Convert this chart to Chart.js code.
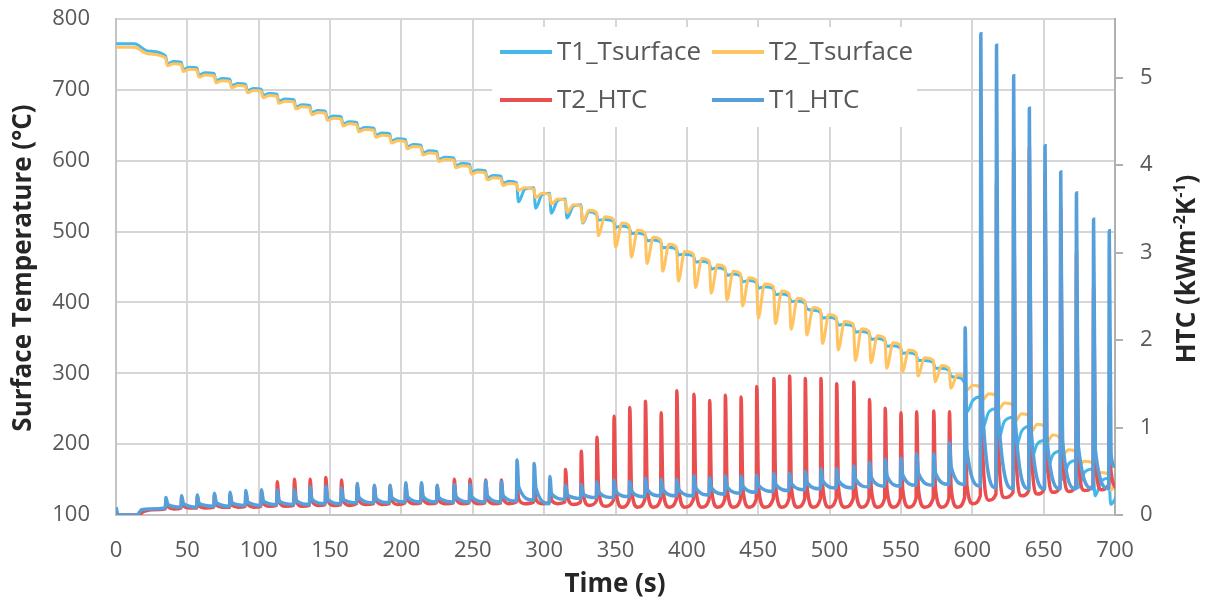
<!DOCTYPE html>
<html>
<head>
<meta charset="utf-8">
<script src="https://cdn.jsdelivr.net/npm/chart.js@4.4.1/dist/chart.umd.min.js"></script>
<style>
  html, body { margin: 0; padding: 0; background: #fff; }
  #wrap { width: 1210px; height: 603px; }
</style>
</head>
<body>
<div id="wrap"><canvas id="chart" width="1210" height="603"></canvas></div>
<script>
// spray pulse times (s)
const spikeT = [35, 46, 57, 69, 80, 91, 102, 113, 125, 136,
  147, 158, 169, 181, 192, 203, 214, 225, 237, 248,
  259, 270, 281, 293, 304, 315, 326, 337, 349, 360,
  371, 382, 393, 405, 416, 427, 438, 449, 461, 472,
  483, 494, 505, 517, 528, 539, 550, 561, 573, 584,
  595, 606, 617, 629, 640, 651, 662, 673, 685, 696];

// T1 surface temperature (°C): before drop, bottom of drop, after recovery
const t1SurfStart = [[0, 765], [13, 765], [22, 755]];
const t1SurfPre = [748, 739, 731, 723, 715, 708, 701, 694, 686, 678,
  670, 662, 654, 646, 638, 630, 622, 613, 604, 595,
  586, 578, 569, 562, 554, 546, 538, 524, 514, 505,
  495, 485, 475, 465, 455, 446, 437, 428, 419, 409,
  399, 386, 376, 366, 356, 346, 336, 326, 315, 304,
  286, 267, 250, 238, 225, 205, 190, 177, 165, 152];
const t1SurfLow = [737, 729, 721, 713, 706, 699, 692, 684, 676, 668,
  660, 652, 644, 636, 628, 620, 611, 602, 593, 584,
  576, 568, 542, 533, 526, 519, 512, 516, 506, 497,
  487, 477, 467, 457, 447, 438, 429, 420, 411, 401,
  391, 378, 368, 358, 348, 338, 328, 318, 307, 296,
  245, 222, 205, 192, 178, 162, 150, 138, 127, 115];
const t1SurfRec = [740, 732, 724, 716, 709, 702, 695, 687, 679, 671,
  663, 655, 647, 639, 631, 623, 614, 605, 596, 587,
  579, 571, 560, 552, 544, 536, 528, 517, 508, 498,
  488, 478, 468, 458, 449, 440, 431, 422, 412, 402,
  389, 379, 369, 359, 349, 339, 329, 318, 307, 294,
  262, 245, 232, 218, 200, 185, 172, 160, 148, 125];
const t1SurfEnd = [[700, 128]];

// T2 surface temperature (°C)
const t2SurfStart = [[0, 760], [13, 760], [22, 751]];
const t2SurfPre = [745, 736, 728, 720, 712, 705, 698, 691, 683, 675,
  667, 659, 651, 643, 635, 627, 619, 610, 601, 592,
  583, 575, 567, 560, 552, 544, 536, 527, 517, 508,
  498, 488, 478, 468, 458, 449, 440, 431, 422, 412,
  402, 389, 379, 369, 359, 349, 339, 329, 318, 307,
  294, 280, 268, 255, 240, 225, 207, 189, 173, 157];
const t2SurfLow = [734, 726, 718, 710, 703, 696, 689, 681, 673, 665,
  657, 649, 641, 633, 625, 617, 608, 599, 590, 581,
  573, 565, 558, 548, 539, 527, 513, 494, 478, 464,
  455, 444, 430, 421, 413, 403, 395, 378, 370, 362,
  354, 342, 333, 318, 315, 307, 302, 296, 288, 279,
  276, 262, 248, 232, 217, 202, 184, 168, 150, 135];
const t2SurfRec = [737, 729, 721, 713, 706, 699, 692, 684, 676, 668,
  660, 652, 644, 636, 628, 620, 611, 602, 593, 584,
  576, 568, 562, 554, 546, 538, 530, 521, 512, 502,
  492, 482, 472, 462, 453, 444, 435, 426, 416, 406,
  393, 383, 373, 363, 353, 343, 333, 322, 311, 298,
  283, 271, 258, 243, 228, 213, 192, 176, 160, 146];
const t2SurfEnd = [[700, 144]];

// T1 HTC (kW/m2K): before spike, peak, shortly after
const t1HtcStart = [[0, 0.09], [1.5, 0], [14.5, 0], [18, 0.06], [24, 0.07]];
const t1HtcPre = [0.08, 0.09, 0.09, 0.10, 0.10, 0.11, 0.11, 0.12, 0.12, 0.12,
  0.13, 0.13, 0.14, 0.14, 0.14, 0.15, 0.15, 0.15, 0.15, 0.15,
  0.15, 0.15, 0.16, 0.17, 0.13, 0.18, 0.19, 0.20, 0.20, 0.21,
  0.21, 0.22, 0.22, 0.22, 0.23, 0.24, 0.25, 0.26, 0.27, 0.28,
  0.29, 0.30, 0.31, 0.31, 0.32, 0.33, 0.33, 0.34, 0.34, 0.35,
  0.35, 0.33, 0.31, 0.30, 0.30, 0.30, 0.30, 0.30, 0.30, 0.30];
const t1HtcPeak = [0.20, 0.22, 0.23, 0.25, 0.26, 0.28, 0.29, 0.29, 0.29, 0.32,
  0.33, 0.31, 0.36, 0.34, 0.34, 0.37, 0.37, 0.34, 0.35, 0.35,
  0.39, 0.38, 0.63, 0.59, 0.44, 0.34, 0.35, 0.38, 0.40, 0.39,
  0.42, 0.41, 0.41, 0.45, 0.43, 0.45, 0.45, 0.46, 0.48, 0.48,
  0.50, 0.53, 0.53, 0.56, 0.60, 0.64, 0.65, 0.70, 0.70, 0.83,
  2.14, 5.50, 5.37, 5.02, 4.65, 4.22, 3.92, 3.68, 3.38, 3.25];
const t1HtcPost = [0.12, 0.13, 0.13, 0.14, 0.14, 0.15, 0.16, 0.16, 0.17, 0.18,
  0.18, 0.18, 0.20, 0.19, 0.20, 0.21, 0.21, 0.20, 0.21, 0.21,
  0.22, 0.22, 0.32, 0.31, 0.24, 0.23, 0.24, 0.26, 0.27, 0.27,
  0.29, 0.29, 0.29, 0.31, 0.31, 0.32, 0.33, 0.34, 0.35, 0.36,
  0.37, 0.39, 0.39, 0.41, 0.43, 0.45, 0.46, 0.48, 0.48, 0.55,
  0.75, 1.20, 1.15, 1.05, 0.98, 0.90, 0.85, 0.80, 0.75, 0.70];
const t1HtcEnd = [[700, 0.55]];

// T2 HTC (kW/m2K): before spike, peak, shortly after, trough
const t2HtcStart = [[0, 0.03], [1.5, 0], [15.5, 0], [19.5, 0.04], [25, 0.06]];
const t2HtcPre = [0.07, 0.08, 0.08, 0.09, 0.09, 0.10, 0.10, 0.11, 0.11, 0.11,
  0.12, 0.12, 0.13, 0.13, 0.13, 0.14, 0.14, 0.14, 0.14, 0.14,
  0.14, 0.14, 0.15, 0.15, 0.14, 0.15, 0.15, 0.16, 0.17, 0.17,
  0.18, 0.18, 0.18, 0.18, 0.18, 0.18, 0.18, 0.18, 0.19, 0.19,
  0.19, 0.19, 0.19, 0.19, 0.19, 0.19, 0.19, 0.19, 0.19, 0.19,
  0.20, 0.22, 0.24, 0.26, 0.28, 0.30, 0.32, 0.33, 0.34, 0.35];
const t2HtcPeak = [0.18, 0.20, 0.21, 0.23, 0.24, 0.26, 0.27, 0.38, 0.41, 0.41,
  0.43, 0.40, 0.33, 0.32, 0.32, 0.34, 0.34, 0.32, 0.41, 0.41,
  0.40, 0.40, 0.33, 0.32, 0.30, 0.52, 0.73, 0.89, 1.13, 1.23,
  1.30, 1.17, 1.42, 1.38, 1.31, 1.37, 1.35, 1.47, 1.56, 1.59,
  1.56, 1.56, 1.50, 1.52, 1.32, 1.22, 1.17, 1.18, 1.19, 1.18,
  1.30, 3.00, 3.80, 4.15, 4.20, 3.90, 3.50, 3.00, 2.60, 1.30];
const t2HtcPost = [0.10, 0.11, 0.11, 0.12, 0.12, 0.13, 0.14, 0.16, 0.17, 0.17,
  0.18, 0.17, 0.17, 0.17, 0.17, 0.18, 0.18, 0.17, 0.19, 0.19,
  0.19, 0.19, 0.18, 0.18, 0.17, 0.22, 0.26, 0.28, 0.30, 0.30,
  0.31, 0.30, 0.32, 0.31, 0.31, 0.31, 0.31, 0.32, 0.33, 0.33,
  0.33, 0.33, 0.32, 0.32, 0.31, 0.30, 0.30, 0.30, 0.30, 0.30,
  0.35, 0.75, 0.85, 0.85, 0.85, 0.80, 0.75, 0.70, 0.65, 0.50];
const t2HtcLow = [0.07, 0.08, 0.08, 0.09, 0.09, 0.09, 0.10, 0.10, 0.10, 0.11,
  0.11, 0.11, 0.12, 0.12, 0.12, 0.13, 0.13, 0.13, 0.13, 0.13,
  0.13, 0.13, 0.13, 0.13, 0.13, 0.12, 0.11, 0.10, 0.09, 0.09,
  0.09, 0.09, 0.09, 0.09, 0.09, 0.09, 0.09, 0.09, 0.09, 0.09,
  0.09, 0.09, 0.09, 0.09, 0.09, 0.09, 0.09, 0.09, 0.09, 0.09,
  0.13, 0.17, 0.20, 0.22, 0.24, 0.26, 0.27, 0.28, 0.29, 0.30];

const legendItems = [
  ['T1_Tsurface', '#45b8ea'], ['T2_Tsurface', '#ffc461'],
  ['T2_HTC', '#ea4f4f'], ['T1_HTC', '#559fdb']
];

const toXY = list => list.map(([x, y]) => ({ x, y }));

function surfPoints(start, pre, low, rec, end) {
  const pts = toXY(start);
  spikeT.forEach((t, i) => {
    pts.push({ x: t - 0.3, y: pre[i] }, { x: t + 1, y: low[i] }, { x: t + 5.5, y: rec[i] });
  });
  return pts.concat(toXY(end));
}

function htcPoints(start, pre, peak, post, low, end) {
  const pts = toXY(start);
  spikeT.forEach((t, i) => {
    pts.push({ x: t - 0.4, y: pre[i] }, { x: t, y: peak[i] }, { x: t + 1.2, y: post[i] });
    if (low) pts.push({ x: t + 5.5, y: low[i] });
  });
  return pts.concat(toXY(end));
}

const gridGrey = '#d6d6d6';
const labelGrey = '#595959';
Chart.defaults.font.family = "'Open Sans', 'DejaVu Sans', sans-serif";

const line = (label, data, color, axis, width) => ({
  label, data, borderColor: color, backgroundColor: color, yAxisID: axis,
  borderWidth: width, pointRadius: 0, cubicInterpolationMode: 'monotone', fill: false
});

// first dataset ends up on top
const datasets = [
  line('T1_HTC', htcPoints(t1HtcStart, t1HtcPre, t1HtcPeak, t1HtcPost, null, t1HtcEnd), '#559fdb', 'y2', 3.5),
  line('T2_HTC', htcPoints(t2HtcStart, t2HtcPre, t2HtcPeak, t2HtcPost, t2HtcLow, []), '#ea4f4f', 'y2', 3.5),
  line('T2_Tsurface', surfPoints(t2SurfStart, t2SurfPre, t2SurfLow, t2SurfRec, t2SurfEnd), '#ffc461', 'y', 3),
  line('T1_Tsurface', surfPoints(t1SurfStart, t1SurfPre, t1SurfLow, t1SurfRec, t1SurfEnd), '#45b8ea', 'y', 3)
];

const decor = {
  id: 'decor',
  beforeDatasetsDraw(chart) {
    const { ctx, chartArea: a } = chart;
    ctx.save();
    ctx.fillStyle = '#fff';
    ctx.fillRect(a.left + 376, a.top + 8, 425, 100);
    ctx.font = "26px 'Open Sans'";
    ctx.textBaseline = 'middle';
    legendItems.forEach(([label, color], i) => {
      const x = a.left + 384 + (i % 2) * 212;
      const y = a.top + 33 + Math.floor(i / 2) * 48;
      ctx.strokeStyle = color;
      ctx.lineWidth = 4;
      ctx.beginPath();
      ctx.moveTo(x, y);
      ctx.lineTo(x + 52, y);
      ctx.stroke();
      ctx.fillStyle = labelGrey;
      ctx.fillText(label, x + 57, y + 1);
    });
    ctx.restore();
  },
  afterDraw(chart) {
    const { ctx } = chart;
    ctx.save();
    ctx.fillStyle = '#262626';
    ctx.font = "bold 26px 'Open Sans'";
    ctx.textAlign = 'center';
    ctx.textBaseline = 'middle';
    ctx.fillText('Time (s)', 615, 585);

    ctx.save();
    ctx.translate(24, 268);
    ctx.rotate(-Math.PI / 2);
    ctx.fillText('Surface Temperature (°C)', 0, 0);
    ctx.restore();

    // right title with superscripts
    ctx.translate(1188, 269);
    ctx.rotate(-Math.PI / 2);
    ctx.textAlign = 'left';
    const parts = [['HTC (kWm', false], ['-2', true], ['K', false], ['-1', true], [')', false]];
    const fontFor = sup => sup ? "bold 16px 'Open Sans'" : "bold 26px 'Open Sans'";
    let w = 0;
    parts.forEach(([s, sup]) => { ctx.font = fontFor(sup); w += ctx.measureText(s).width; });
    let x = -w / 2;
    parts.forEach(([s, sup]) => {
      ctx.font = fontFor(sup);
      ctx.fillText(s, x, sup ? -8 : 0);
      x += ctx.measureText(s).width;
    });
    ctx.restore();
  }
};

// vertical scales: fixed width, no extra room above/below for labels
const fixWidth = w => s => { s.width = w; s.paddingTop = 0; s.paddingBottom = 0; };

new Chart(document.getElementById('chart'), {
  type: 'line',
  data: { datasets },
  plugins: [decor],
  options: {
    responsive: false,
    animation: false,
    events: [],
    layout: { padding: { top: 19, left: 0, right: 0, bottom: 0 } },
    plugins: { legend: { display: false }, tooltip: { enabled: false } },
    scales: {
      x: {
        type: 'linear', min: 0, max: 700,
        ticks: { stepSize: 50, color: labelGrey, font: { size: 22 }, padding: 23, maxRotation: 0 },
        grid: { color: gridGrey, lineWidth: 2, drawTicks: false },
        border: { color: '#c4c4c4', width: 2 },
        afterFit: s => { s.height = 88; }
      },
      y: {
        position: 'left', min: 100, max: 800,
        ticks: { stepSize: 100, color: labelGrey, font: { size: 22 }, padding: 26 },
        grid: { color: gridGrey, lineWidth: 2, drawTicks: false },
        border: { color: '#c4c4c4', width: 2 },
        afterFit: fixWidth(116)
      },
      y2: {
        position: 'right', min: 0, max: 5.67,
        ticks: { stepSize: 1, color: labelGrey, font: { size: 22 }, padding: 17 },
        grid: { drawOnChartArea: false, drawTicks: true, tickLength: 8, color: '#b0b0b0', lineWidth: 2 },
        border: { color: '#b0b0b0', width: 2 },
        afterBuildTicks: s => { s.ticks = s.ticks.filter(t => Number.isInteger(t.value)); },
        afterFit: fixWidth(95)
      }
    }
  }
});
</script>
</body>
</html>
